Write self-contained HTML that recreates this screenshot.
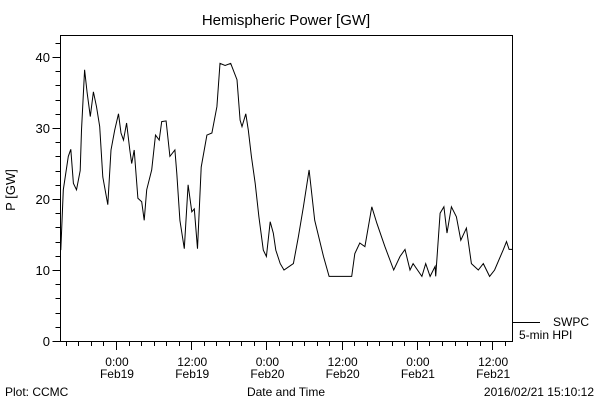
<!DOCTYPE html>
<html><head><meta charset="utf-8"><style>
html,body{margin:0;padding:0;background:#fff;}
svg{display:block;font-family:"Liberation Sans",sans-serif;}
</style></head><body>
<svg id="chart" width="600" height="400" viewBox="0 0 600 400">
<text x="286" y="25" text-anchor="middle" font-size="15">Hemispheric Power [GW]</text>
<text x="15" y="190" text-anchor="middle" font-size="13" transform="rotate(-90 15 190)">P [GW]</text>
<text x="286" y="396" text-anchor="middle" font-size="12">Date and Time</text>
<text x="5" y="396" font-size="12">Plot: CCMC</text>
<text x="594" y="396" text-anchor="end" font-size="12">2016/02/21 15:10:12</text>
<rect x="60.5" y="35.5" width="452" height="306" fill="none" stroke="#000"/>
<g id="axes"></g>
<path id="line" fill="none" stroke="#000" stroke-width="1"/>
<line x1="513" y1="322.5" x2="540" y2="322.5" stroke="#000"/>
<text x="553" y="326" font-size="12">SWPC</text>
<text x="519" y="339" font-size="12">5-min HPI</text>
</svg>
<script>
const hours=[-8.8,-8.4,-7.6,-7.2,-6.8,-6.3,-5.7,-5.5,-5.0,-4.6,-4.1,-3.6,-3.1,-2.6,-2.1,-1.3,-0.8,-0.2,0.4,0.8,1.2,1.7,2.2,2.5,2.9,3.5,4.1,4.5,4.9,5.7,6.3,6.9,7.3,8.0,8.6,9.4,9.7,10.2,10.9,11.5,12.1,12.5,13.0,13.6,14.5,15.3,16.1,16.6,17.4,18.3,19.3,19.8,20.1,20.7,21.1,21.6,22.2,22.8,23.5,24.0,24.6,25.1,25.5,26.2,26.8,28.3,29.1,29.9,30.8,31.7,33.1,34.0,37.6,38.1,38.9,39.7,40.8,41.6,42.9,44.3,45.3,46.1,46.9,47.4,48.8,49.4,50.1,50.9,51.0,51.7,52.3,52.8,53.5,54.3,55.0,55.9,56.7,57.8,58.6,59.6,60.4,61.8,62.3,62.7,63.2];
const power=[12.8,21.3,26,27,22.2,21.3,24,29.7,38.2,35,31.6,35.1,33,30.2,23.1,19.2,26.9,29.7,32,29.3,28.3,30.7,26.9,25,26.9,20.1,19.6,17,21.3,24.1,29,28.3,30.9,31,26,26.9,23.6,17,13,22,18.2,18.6,13,24.5,29,29.3,33,39.1,38.8,39.1,36.8,31.1,30.2,32,29.7,26,22.2,17.5,12.8,11.9,16.8,15.2,12.8,10.9,10,10.9,14.7,18.9,24.1,17,11.9,9.1,9.1,12.3,13.8,13.3,18.9,16.6,13.3,10,11.9,12.9,10,10.9,9.1,10.9,9.1,10.5,9.1,18,18.9,15.2,18.9,17.5,14.2,15.9,10.9,10,10.9,9.1,10,12.9,14,12.9,12.9];
const yTicks=[0,10,20,30,40];
const xTickHours=[0,12,24,36,48,60];
const xTickTimes=["0:00","12:00","0:00","12:00","0:00","12:00"];
const xTickDates=["Feb19","Feb19","Feb20","Feb20","Feb21","Feb21"];
const X0=60.5,X1=512.5,Y0=341,H0=-8.85,H1=63.25;
const xs=h=>X0+(h-H0)/(H1-H0)*(X1-X0);
const ys=v=>Y0-v*7.1;
const NS="http://www.w3.org/2000/svg";
const ax=document.getElementById('axes');
function mk(tag,attrs){const e=document.createElementNS(NS,tag);for(const k in attrs)e.setAttribute(k,attrs[k]);ax.appendChild(e);return e;}
for(let v=0;v<=43;v+=2){const y=Math.round(ys(v))+0.5;const major=v%10===0;
 const t=mk('line',{x1:X0-(major?8:5),x2:X0,y1:y,y2:y,stroke:'#000'});
 
 }
yTicks.forEach(v=>{const t=mk('text',{x:50,y:ys(v)+5,'text-anchor':'end','font-size':13});t.textContent=v;
 
 });
for(let h=-8;h<=63;h+=2){const x=Math.round(xs(h))+0.5;const major=h%12===0;
 const t=mk('line',{x1:x,x2:x,y1:Y0,y2:Y0+(major?9:5),stroke:'#000'});
 
 }
xTickHours.forEach((h,i)=>{const x=xs(h);
 const a=mk('text',{x:x+1,y:366,'text-anchor':'middle','font-size':12});a.textContent=xTickTimes[i];
 
 
 const b=mk('text',{x:x+1,y:378,'text-anchor':'middle','font-size':12});b.textContent=xTickDates[i];
 
 });
document.getElementById('line').setAttribute('d',hours.map((h,i)=>(i?'L':'M')+xs(h).toFixed(1)+' '+ys(power[i]).toFixed(1)).join(' '));
</script>
</body></html>
